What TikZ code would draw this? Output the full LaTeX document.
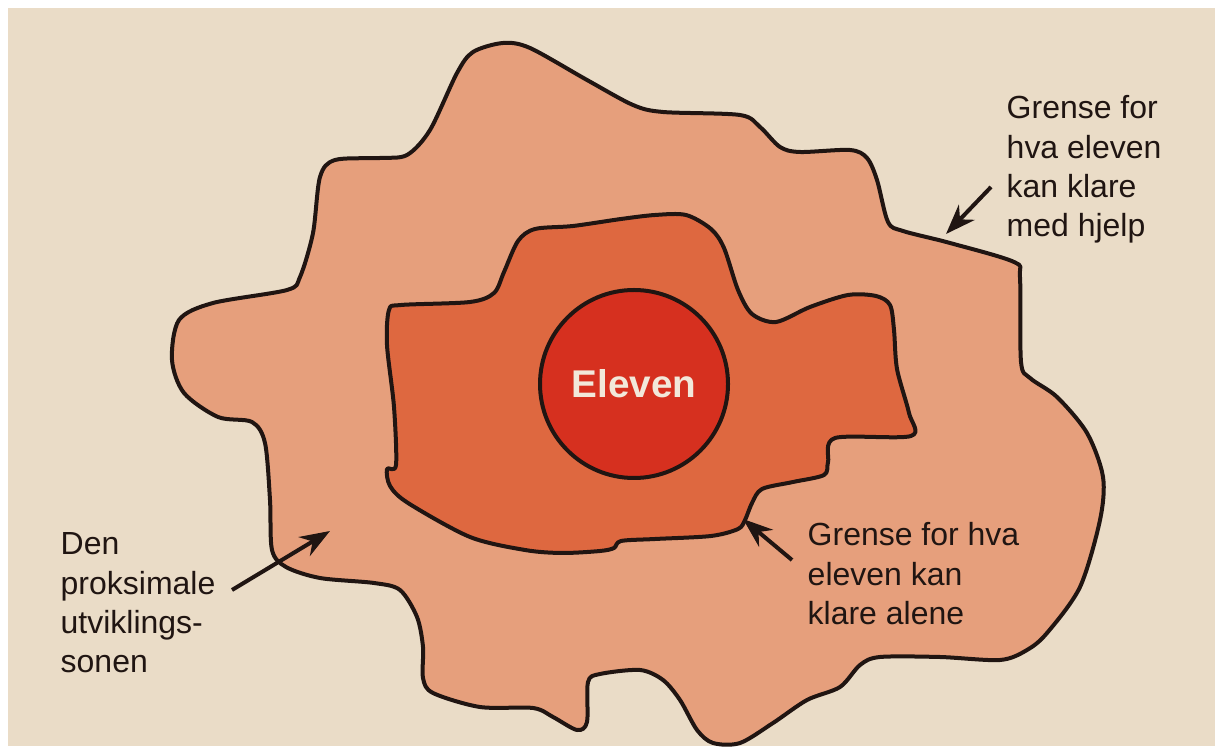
\documentclass[tikz,border=0pt]{standalone}
\usepackage{fontspec}
\setmainfont{Liberation Sans}
\usetikzlibrary{arrows.meta}
\definecolor{paper}{HTML}{EADCC7}
\definecolor{zonehelp}{HTML}{E69F7C}
\definecolor{zonealone}{HTML}{DE6840}
\definecolor{pupil}{HTML}{D6301F}
\definecolor{ink}{HTML}{201512}
\definecolor{chalk}{HTML}{F2E8DA}

\begin{document}
\begin{tikzpicture}[
    x=0.1mm, y=-0.1mm,
    outline/.style={draw=ink, line width=0.4mm, line join=round},
    lbl/.style={font=\fontsize{9.1}{11.2}\selectfont, text=ink, align=left, anchor=north west, inner sep=0pt},
    pointer/.style={draw=ink, line width=0.4mm, -{Stealth[length=3mm, width=2.2mm]}},
]

% Page
\useasboundingbox (0,0) rectangle (1215,751);
\fill[white] (0,0) rectangle (1215,751);
\fill[paper] (8,8) rectangle (1215,746);

% Outer zone: what the pupil manages with help
\draw[outline, fill=zonehelp] plot[smooth cycle] coordinates {
  (503,43) (530,48) (587,80) (633,105) (663,112) (740,115) (760,127) (780,147)
  (800,152) (850,150) (867,158) (877,180) (888,222) (903,231) (950,243) (1014,262)
  (1020,278) (1021,362) (1030,378) (1057,397) (1087,433) (1103,477) (1100,520)
  (1080,587) (1047,633) (1027,650) (1000,660) (940,657) (880,657) (860,665)
  (840,687) (807,700) (773,723) (740,743) (713,743) (697,730) (680,700) (663,680)
  (640,670) (600,674) (588,682) (587,722) (577,730) (553,717) (533,708) (480,707)
  (433,693) (423,678) (423,647) (417,617) (400,590) (374,583) (320,578) (286,567)
  (272,550) (270,500) (265,443) (252,422) (218,417) (184,393) (172,360) (179,320)
  (213,303) (287,290) (300,277) (313,233) (320,177) (335,160) (380,158) (407,155)
  (430,130) (457,73) (473,52)
};

% Inner zone: what the pupil manages alone
\draw[outline, fill=zonealone] plot[smooth cycle] coordinates {
  (389,310) (401,305) (470,302) (494,293) (504,272) (518,241) (535,229) (573,226)
  (621,219) (655,215) (686,215) (711,229) (724,248) (738,290) (752,314) (776,322)
  (810,307) (848,295) (876,296) (890,305) (894,330) (897,369) (909,413) (911,436)
  (835,438) (828,462) (824,475) (793,482) (762,489) (752,503) (745,520) (738,529)
  (711,536) (655,539) (621,541) (614,548) (600,551) (562,553) (525,550) (470,537)
  (408,503) (390,486) (387,469) (396,465) (394,407) (387,345)
};

% The pupil
\node[circle, outline, fill=pupil, minimum size=18.8mm, text=chalk,
      font=\fontsize{11}{13}\selectfont\bfseries] (eleven) at (634,384) {Eleven};

% Labels
\node[lbl] (medhjelp) at (1006,95) {Grense for\\hva eleven\\kan klare\\med hjelp};
\node[lbl] (alene) at (807,522) {Grense for hva\\eleven kan\\klare alene};
\node[lbl] (sonen) at (60,532) {Den\\proksimale\\utviklings-\\sonen};

% Arrows
\coordinate (medhjelptail) at (991,187);
\coordinate (medhjelptip) at (946,234);
\coordinate (alenetail) at (792,560);
\coordinate (alenetip) at (743,519);
\coordinate (sonentail) at (232,590);
\coordinate (sonentip) at (330,531);
\draw[pointer] (medhjelptail) -- (medhjelptip);
\draw[pointer] (alenetail) -- (alenetip);
\draw[pointer] (sonentail) -- (sonentip);

\end{tikzpicture}
\end{document}
